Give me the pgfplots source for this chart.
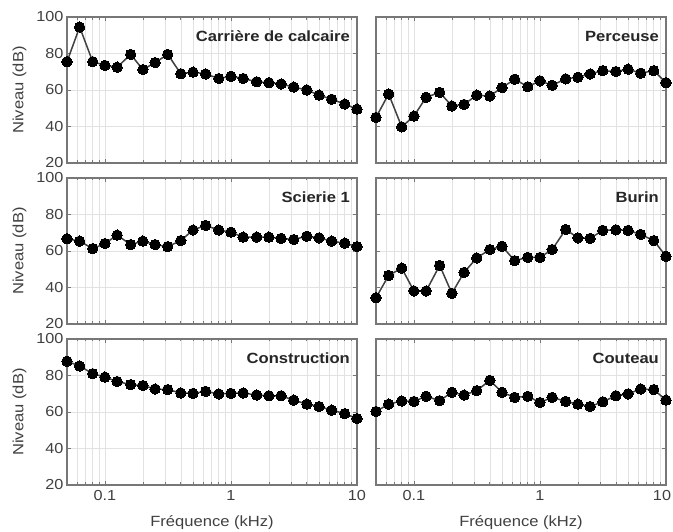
\documentclass[border=0pt]{standalone}
\usepackage{pgfplots}
\pgfplotsset{compat=1.18}
\usepgfplotslibrary{groupplots}
\usepackage{pgfplotstable}
\usepackage{fontspec}
\setmainfont{Liberation Sans}[FakeStretch=1.12]

% Third-octave band levels (dB) per source
\pgfplotstableread{
f      carriere perceuse scierie burin construction couteau
0.05   75.5     45.0     66.7    34.4  87.8         60.3
0.063  94.5     57.8     65.4    46.6  85.2         64.3
0.08   75.5     39.8     61.3    50.6  81.0         66.0
0.1    73.5     45.7     64.1    38.1  79.1         65.8
0.125  72.5     56.0     68.7    38.1  76.7         68.6
0.16   79.5     58.7     63.5    52.1  75.0         66.2
0.2    71.2     51.2     65.4    36.8  74.5         70.8
0.25   75.0     52.1     63.5    48.3  72.6         69.3
0.315  79.5     57.2     62.4    56.2  72.3         71.7
0.4    68.9     56.7     65.7    60.8  70.4         77.3
0.5    69.8     61.3     71.5    62.6  70.2         70.8
0.63   68.8     65.9     74.0    54.7  71.3         68.0
0.8    66.3     61.8     71.5    56.5  69.9         68.6
1      67.5     65.0     70.3    56.5  70.2         65.2
1.25   66.3     62.6     67.6    60.8  70.4         68.0
1.6    64.5     66.1     67.6    71.8  69.3         65.8
2      64.0     67.0     67.6    67.2  68.9         64.3
2.5    63.3     68.8     66.9    66.9  68.9         63.0
3.15   61.6     70.6     66.3    71.3  66.5         65.6
4      60.0     70.1     68.1    71.6  64.3         68.9
5      57.2     71.4     67.2    71.3  63.0         69.9
6.3    54.9     69.2     65.4    69.1  61.0         72.6
8      52.3     70.6     64.3    65.7  59.1         72.3
10     49.5     64.0     62.4    57.1  56.4         66.5
}\levels

\definecolor{framegray}{HTML}{777777}
\definecolor{gridgray}{HTML}{E2E2E2}
\definecolor{labelgray}{HTML}{404040}

\pgfplotsset{
  panel/.style={
    width=290pt, height=146pt, scale only axis,
    xmode=log, xmin=0.05, xmax=10, ymin=20, ymax=100,
    xtick={0.1,1,10}, xticklabels={0.1,1,10},
    minor xtick={0.05,0.06,0.07,0.08,0.09,0.2,0.3,0.4,0.5,0.6,0.7,0.8,0.9,2,3,4,5,6,7,8,9},
    ytick={20,40,60,80,100},
    xmajorgrids, xminorgrids, ymajorgrids,
    major grid style={gridgray, line width=0.6pt},
    minor grid style={gridgray, line width=0.6pt},
    tick align=inside, major tick length=4pt, minor tick length=2.5pt,
    tick style={framegray, line width=0.7pt},
    axis line style={framegray, line width=1.2pt},
    ticklabel style={font=\fontsize{14.5}{16}\selectfont, text=labelgray},
    /pgf/number format/assume math mode=true,
    label style={font=\fontsize{14.8}{16}\selectfont, text=labelgray},
    ylabel style={at={(axis description cs:-0.164,0.5)}, anchor=center},
    xlabel style={at={(axis description cs:0.5,-0.258)}, anchor=center},
    xticklabel style={yshift=-2pt},
    clip=false,
  },
  spectrum/.style={color=black!75, line width=1.5pt, mark=*, mark size=5.2pt,
    mark options={fill=black, draw=black, line width=0pt}},
}

\newcommand{\paneltitle}[1]{%
  \node[anchor=base east, inner sep=0pt, font=\bfseries\fontsize{14.8}{16}\selectfont, text=black!85]
    at (rel axis cs:0.976,0.835) {#1};}

\begin{document}
\begin{tikzpicture}
\begin{groupplot}[
  group style={group size=2 by 3, horizontal sep=19pt, vertical sep=15pt,
    x descriptions at=edge bottom, y descriptions at=edge left},
  panel,
  xlabel={Fréquence (kHz)}, ylabel={Niveau (dB)},
]
\nextgroupplot
\addplot[spectrum] table[x=f, y=carriere] {\levels};
\paneltitle{Carrière de calcaire}
\nextgroupplot
\addplot[spectrum] table[x=f, y=perceuse] {\levels};
\paneltitle{Perceuse}
\nextgroupplot
\addplot[spectrum] table[x=f, y=scierie] {\levels};
\paneltitle{Scierie 1}
\nextgroupplot
\addplot[spectrum] table[x=f, y=burin] {\levels};
\paneltitle{Burin}
\nextgroupplot
\addplot[spectrum] table[x=f, y=construction] {\levels};
\paneltitle{Construction}
\nextgroupplot[xticklabels={0.1,1,{\hspace{-8pt}10}}]
\addplot[spectrum] table[x=f, y=couteau] {\levels};
\paneltitle{Couteau}
\end{groupplot}
\pgfresetboundingbox
\useasboundingbox (group c1r1.north west) ++(-67pt,17pt) rectangle ++(673pt,-531pt);
\end{tikzpicture}
\end{document}
